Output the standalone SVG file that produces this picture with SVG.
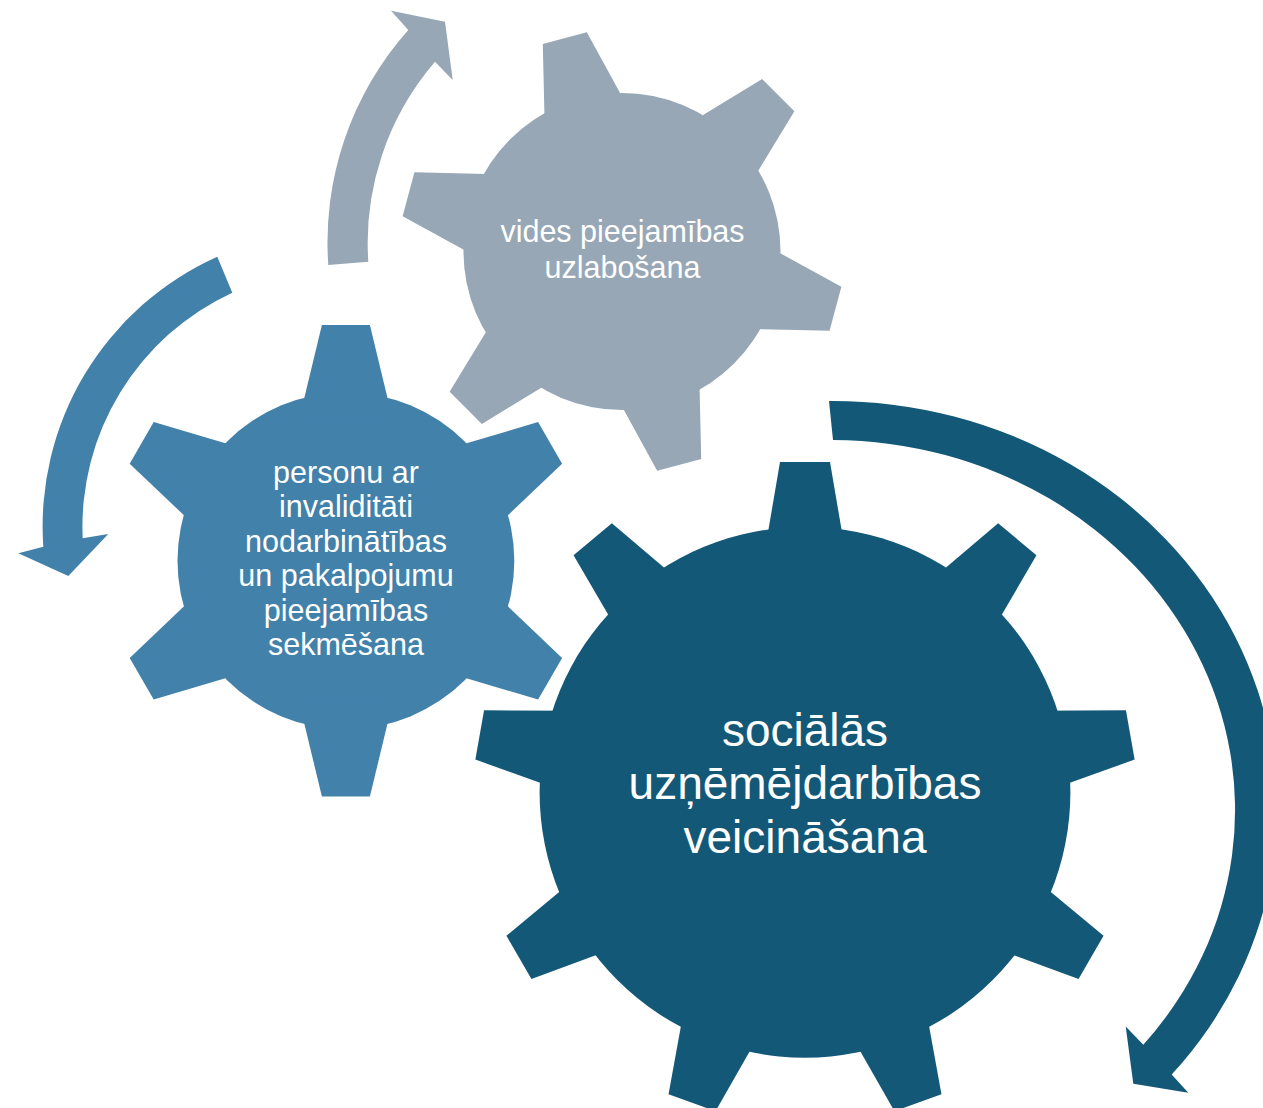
<svg xmlns="http://www.w3.org/2000/svg" xmlns:xlink="http://www.w3.org/1999/xlink" width="1263" height="1108" viewBox="0 0 1263 1108">
<style>
.dark{fill:#145878}
.mid{fill:#4281AA}
.gray{fill:#97A7B5}
.lbl{font-family:"Liberation Sans",Arial,sans-serif;fill:#ffffff;text-anchor:middle}
</style>
<defs>
<polygon id="toothBig" points="-40.4,-240 -25,-330.3 25,-330.3 40.4,-240"/>
<polygon id="toothMid" points="-47.1,-140 -24,-235.8 24,-235.8 47.1,-140"/>
<polygon id="toothGray" points="-44.9,-130 -22.8,-221 22.8,-221 44.9,-130"/>
</defs>
<rect width="1263" height="1108" fill="#ffffff"/>
<g id="connectors">
<path class="gray" d="M 328.3,265 A 319 319 0 0 1 408.3,30 L 391,10.7 L 445,21.7 L 452.7,80 L 435,61.7 A 278 278 0 0 0 368.3,261.7 Z"/>
<path class="mid" d="M 217.3,256.7 A 295.4 295.4 0 0 0 43.3,546.7 L 18.3,553.3 L 68.3,576 L 108.3,534 L 82.7,538.3 A 257.5 257.5 0 0 1 232.3,292.7 Z"/>
<path class="dark" d="M 829,401 A 444 409 0 0 1 1171.7,1074.5 L 1188.3,1092.8 L 1133.3,1083.7 L 1125.7,1026.4 L 1143.3,1044.8 A 404 370 0 0 0 833,440 Z"/>
</g>
<g id="gear-vides">
<g class="gray" transform="translate(622,251.5)">
<circle r="158.5"/>
<use xlink:href="#toothGray" href="#toothGray" transform="rotate(-15)"/>
<use xlink:href="#toothGray" href="#toothGray" transform="rotate(45)"/>
<use xlink:href="#toothGray" href="#toothGray" transform="rotate(105)"/>
<use xlink:href="#toothGray" href="#toothGray" transform="rotate(165)"/>
<use xlink:href="#toothGray" href="#toothGray" transform="rotate(225)"/>
<use xlink:href="#toothGray" href="#toothGray" transform="rotate(285)"/>
</g>
<text class="lbl" font-size="30.5"><tspan x="622.5" y="242">vides pieejamības</tspan><tspan x="622.5" y="277.5">uzlabošana</tspan></text>
</g>
<g id="gear-personu">
<g class="mid" transform="translate(345.9,560.8)">
<circle r="168.4"/>
<use xlink:href="#toothMid" href="#toothMid" transform="rotate(0)"/>
<use xlink:href="#toothMid" href="#toothMid" transform="rotate(60)"/>
<use xlink:href="#toothMid" href="#toothMid" transform="rotate(120)"/>
<use xlink:href="#toothMid" href="#toothMid" transform="rotate(180)"/>
<use xlink:href="#toothMid" href="#toothMid" transform="rotate(240)"/>
<use xlink:href="#toothMid" href="#toothMid" transform="rotate(300)"/>
</g>
<text class="lbl" font-size="30.5"><tspan x="346" y="482.5">personu ar</tspan><tspan x="346" y="517">invaliditāti</tspan><tspan x="346" y="551.5">nodarbinātības</tspan><tspan x="346" y="586">un pakalpojumu</tspan><tspan x="346" y="620.5">pieejamības</tspan><tspan x="346" y="655">sekmēšana</tspan></text>
</g>
<g id="gear-sociala">
<g class="dark" transform="translate(805,792.3)">
<circle r="265.4"/>
<use xlink:href="#toothBig" href="#toothBig" transform="rotate(0)"/>
<use xlink:href="#toothBig" href="#toothBig" transform="rotate(40)"/>
<use xlink:href="#toothBig" href="#toothBig" transform="rotate(80)"/>
<use xlink:href="#toothBig" href="#toothBig" transform="rotate(120)"/>
<use xlink:href="#toothBig" href="#toothBig" transform="rotate(160)"/>
<use xlink:href="#toothBig" href="#toothBig" transform="rotate(200)"/>
<use xlink:href="#toothBig" href="#toothBig" transform="rotate(240)"/>
<use xlink:href="#toothBig" href="#toothBig" transform="rotate(280)"/>
<use xlink:href="#toothBig" href="#toothBig" transform="rotate(320)"/>
</g>
<text class="lbl" font-size="46"><tspan x="805" y="745.5">sociālās</tspan><tspan x="805" y="799">uzņēmējdarbības</tspan><tspan x="805" y="852.5">veicināšana</tspan></text>
</g>
</svg>
